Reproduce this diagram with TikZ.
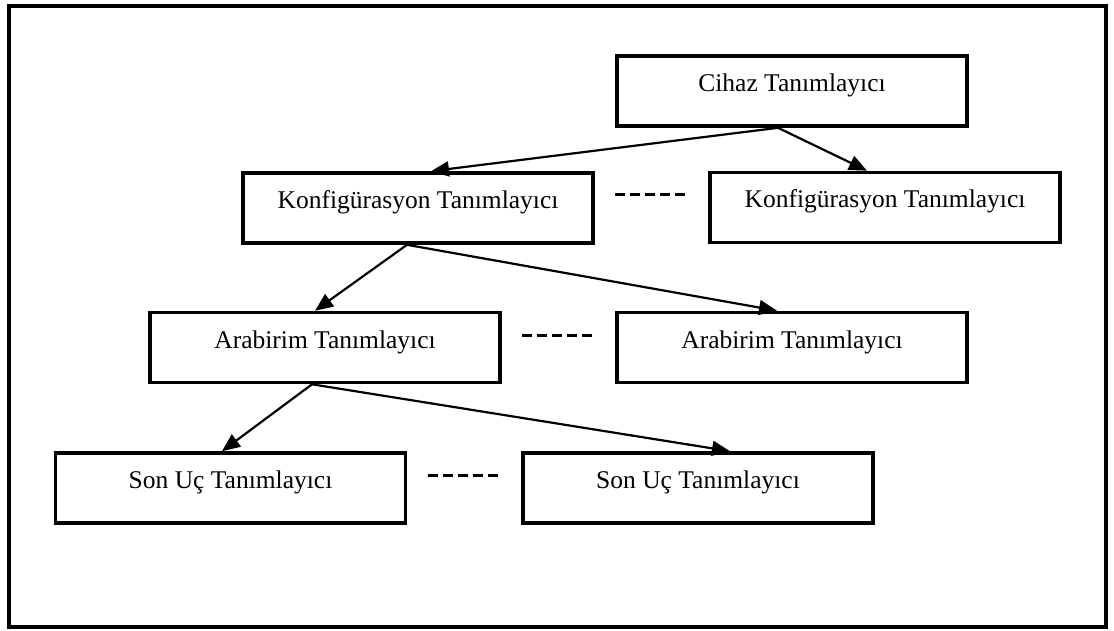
\documentclass[tikz,border=0pt]{standalone}
\usepackage{fontspec}
\setmainfont{Liberation Serif}
\usetikzlibrary{arrows.meta}
\begin{document}
\begin{tikzpicture}[x=1pt,y=-1pt,
  descbox/.style={draw=black, line width=3.6pt, minimum width=350pt, inner sep=0pt,
    text height=35.5pt, text depth=34.5pt,
    font=\fontsize{25.5}{30}\selectfont},
  link/.style={line width=2.2pt, -{Triangle[length=18pt,width=15pt]}},
  gap/.style={line width=3pt, dash pattern=on 10pt off 5pt}]
  \useasboundingbox (0,0) rectangle (1114,631);
  % outer frame
  \draw[line width=3.8pt] (9,6) rectangle (1106,627);

  % descriptor hierarchy
  \node[descbox] (cihaz) at (792,91) {Cihaz Tanımlayıcı};
  \node[descbox] (konfA) at (418,208) {Konfigürasyon Tanımlayıcı};
  \node[descbox] (konfB) at (885,207.5) {Konfigürasyon Tanımlayıcı};
  \node[descbox] (arabA) at (325,347.5) {Arabirim Tanımlayıcı};
  \node[descbox] (arabB) at (792,347.5) {Arabirim Tanımlayıcı};
  \node[descbox] (sonA) at (230.5,488) {Son Uç Tanımlayıcı};
  \node[descbox] (sonB) at (698,488) {Son Uç Tanımlayıcı};

  % parent-to-child arrows
  \draw[link] ([xshift=-14pt]cihaz.south) -- ([xshift=13pt]konfA.north);
  \draw[link] ([xshift=-14pt]cihaz.south) -- ([xshift=-18pt]konfB.north);
  \draw[link] ([xshift=-11pt]konfA.south) -- ([xshift=-10pt]arabA.north);
  \draw[link] ([xshift=-11pt]konfA.south) -- ([xshift=-15pt]arabB.north);
  \draw[link] ([xshift=-13pt]arabA.south) -- ([xshift=-8.5pt]sonA.north);
  \draw[link] ([xshift=-13pt]arabA.south) -- ([xshift=32pt]sonB.north);

  % dashed "more of the same" marks between siblings
  \coordinate (d1) at (615,195);
  \coordinate (d1e) at (685,195);
  \coordinate (d2) at (522,335);
  \coordinate (d2e) at (592,335);
  \coordinate (d3) at (428,475);
  \coordinate (d3e) at (498,475);
  \draw[gap] (d1) -- (d1e);
  \draw[gap] (d2) -- (d2e);
  \draw[gap] (d3) -- (d3e);
\end{tikzpicture}
\end{document}
